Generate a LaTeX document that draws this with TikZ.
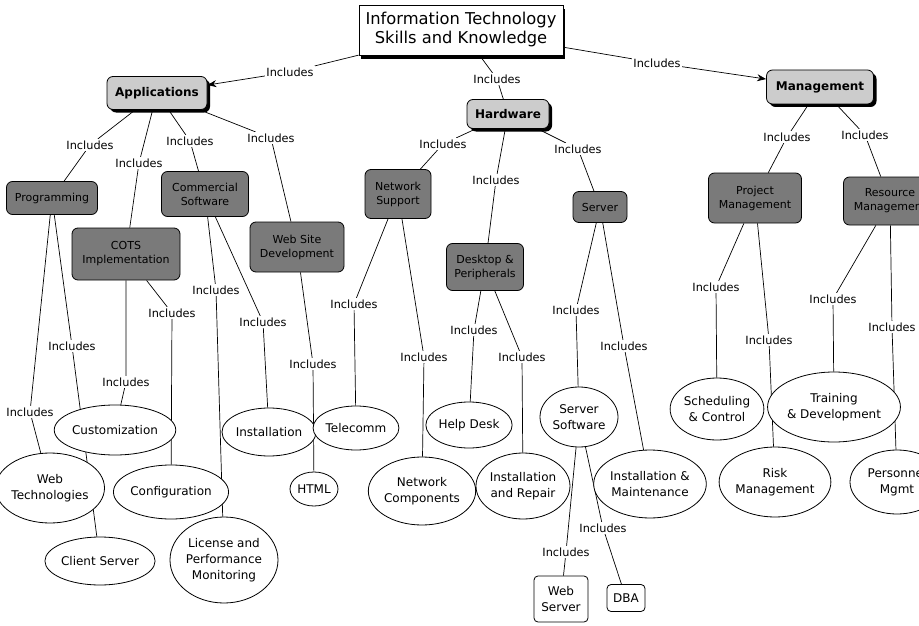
\documentclass[tikz,border=0pt]{standalone}
\usepackage{fontspec}
\setmainfont{DejaVu Sans}
\usetikzlibrary{shapes.geometric,shadows,arrows.meta}
\pgfdeclarelayer{edges}
\pgfsetlayers{edges,main}
\begin{document}
\begin{tikzpicture}[x=1pt,y=-1pt,
  conn/.style={draw=black,line width=0.7pt},
  arr/.style={conn,-{Stealth[length=9pt,width=7pt]}},
  lab/.style={font=\fontsize{11.3}{13}\selectfont,inner sep=1.5pt,fill=white},
  rootbox/.style={draw,fill=white,line width=0.8pt,align=center,
    font=\fontsize{16.3}{19}\selectfont,minimum width=204pt,minimum height=50pt,
    drop shadow={shadow xshift=2pt,shadow yshift=-4pt,fill=black,opacity=1}},
  topbox/.style={draw,fill=black!20,rounded corners=6pt,line width=0.8pt,
    font=\bfseries\fontsize{12}{14}\selectfont,inner sep=0pt,
    drop shadow={shadow xshift=3pt,shadow yshift=-3pt,fill=black,opacity=1}},
  subbox/.style={draw,fill=black!52,rounded corners=6pt,line width=0.8pt,align=center,
    font=\fontsize{11}{14}\selectfont,inner sep=0pt,text=black},
  leaf/.style={ellipse,draw,fill=white,line width=0.8pt,inner sep=0pt,align=center,
    font=\fontsize{12}{16}\selectfont},
  leafbox/.style={draw,fill=white,rounded corners=4pt,line width=0.8pt,inner sep=0pt,
    align=center,font=\fontsize{12}{16}\selectfont}
]
\useasboundingbox (0,0) rectangle (919,626);
\clip (0,0) rectangle (919,626);

% top concept
\node[rootbox] (it) at (461,30) {Information Technology\\Skills and Knowledge};

% main branches
\node[topbox,minimum width=100pt,minimum height=33pt] (app) at (157,93) {Applications};
\node[topbox,minimum width=82pt,minimum height=29pt] (hw) at (508,114) {Hardware};
\node[topbox,minimum width=107pt,minimum height=34pt] (mg) at (820,87) {Management};

% sub-areas
\node[subbox,minimum width=91pt,minimum height=33pt] (prog) at (52,198) {Programming};
\node[subbox,minimum width=108pt,minimum height=52pt] (cots) at (126,254) {COTS\\Implementation};
\node[subbox,minimum width=87pt,minimum height=45pt] (comm) at (205,194) {Commercial\\Software};
\node[subbox,minimum width=94pt,minimum height=50pt] (wsd) at (297,247) {Web Site\\Development};
\node[subbox,minimum width=66pt,minimum height=49pt] (ns) at (398,194) {Network\\Support};
\node[subbox,minimum width=77pt,minimum height=47pt] (dp) at (485,267) {Desktop \&\\Peripherals};
\node[subbox,minimum width=54pt,minimum height=31pt] (srv) at (600,207) {Server};
\node[subbox,minimum width=93pt,minimum height=50pt] (pm) at (755,198) {Project\\Management};
\node[subbox,minimum width=93pt,minimum height=48pt] (rm) at (890,201) {Resource\\Management};

% leaves
\node[leaf,minimum width=104pt,minimum height=50pt] (cust) at (115,430) {Customization};
\node[leaf,minimum width=96pt,minimum height=70pt] (webt) at (50,488) {Web\\Technologies};
\node[leaf,minimum width=94pt,minimum height=48pt] (cs) at (100,561) {Client Server};
\node[leaf,minimum width=98pt,minimum height=54pt] (conf) at (171,492) {Configuration};
\node[leaf,minimum width=108pt,minimum height=86pt] (lic) at (224,560) {License and\\Performance\\Monitoring};
\node[leaf,minimum width=86pt,minimum height=48pt] (inst) at (269,432) {Installation};
\node[leaf,minimum width=48pt,minimum height=34pt] (html) at (314,489) {HTML};
\node[leaf,minimum width=76pt,minimum height=44pt] (tel) at (356,428) {Telecomm};
\node[leaf,minimum width=90pt,minimum height=68pt] (nc) at (422,491) {Network\\Components};
\node[leaf,minimum width=76pt,minimum height=46pt] (hd) at (469,425) {Help Desk};
\node[leaf,minimum width=94pt,minimum height=66pt] (ir) at (523,486) {Installation\\and Repair};
\node[leaf,minimum width=78pt,minimum height=60pt] (ssw) at (579,417) {Server\\Software};
\node[leaf,minimum width=104pt,minimum height=68pt] (im) at (650,484) {Installation \&\\Maintenance};
\node[leaf,minimum width=90pt,minimum height=62pt] (sch) at (717,409) {Scheduling\\\& Control};
\node[leaf,minimum width=116pt,minimum height=70pt] (trn) at (834,407) {Training\\\& Development};
\node[leaf,minimum width=104pt,minimum height=70pt] (risk) at (775,482) {Risk\\Management};
\node[leaf,minimum width=94pt,minimum height=64pt] (per) at (897,482) {Personnel\\Mgmt};
\node[leafbox,minimum width=54pt,minimum height=46pt] (wsv) at (561,599) {Web\\Server};
\node[leafbox,minimum width=38pt,minimum height=27pt] (dba) at (626,598) {DBA};

% link labels
\node[lab] (l0) at (290,72) {Includes};
\node[lab] (lh) at (497,79) {Includes};
\node[lab] (lm) at (657,63) {Includes};
\node[lab] (l1) at (90,145) {Includes};
\node[lab] (l2) at (139,163) {Includes};
\node[lab] (l3) at (190,141) {Includes};
\node[lab] (l4) at (271,138) {Includes};
\node[lab] (l5) at (443,144) {Includes};
\node[lab] (l6) at (496,180) {Includes};
\node[lab] (l7) at (578,149) {Includes};
\node[lab] (l8) at (787,137) {Includes};
\node[lab] (l9) at (865,135) {Includes};
\node[lab] (l10) at (30,412) {Includes};
\node[lab] (l11) at (72,346) {Includes};
\node[lab] (l12) at (126,382) {Includes};
\node[lab] (l13) at (172,313) {Includes};
\node[lab] (l14) at (216,290) {Includes};
\node[lab] (l15) at (263,322) {Includes};
\node[lab] (l16) at (313,364) {Includes};
\node[lab] (l17) at (354,304) {Includes};
\node[lab] (l18) at (424,357) {Includes};
\node[lab] (l19) at (474,330) {Includes};
\node[lab] (l20) at (522,357) {Includes};
\node[lab] (l21) at (576,310) {Includes};
\node[lab] (l22) at (624,346) {Includes};
\node[lab] (l23) at (566,552) {Includes};
\node[lab] (l24) at (603,528) {Includes};
\node[lab] (l25) at (716,287) {Includes};
\node[lab] (l26) at (769,340) {Includes};
\node[lab] (l27) at (833,299) {Includes};
\node[lab] (l28) at (892,327) {Includes};

% connectors
\begin{pgfonlayer}{edges}
\draw[conn] (it) -- (l0); \draw[arr] (l0) -- (app);
\draw[conn] (it) -- (lh); \draw[conn] (lh) -- (hw);
\draw[conn] (it) -- (lm); \draw[arr] (lm) -- (mg);
\draw[conn] (app) -- (l1) -- (prog);
\draw[conn] (app) -- (l2) -- (cots);
\draw[conn] (app) -- (l3) -- (comm);
\draw[conn] (app) -- (l4) -- (wsd);
\draw[conn] (hw) -- (l5) -- (ns);
\draw[conn] (hw) -- (l6) -- (dp);
\draw[conn] (hw) -- (l7) -- (srv);
\draw[conn] (mg) -- (l8) -- (pm);
\draw[conn] (mg) -- (l9) -- (rm);
\draw[conn] (prog) -- (l10) -- (webt);
\draw[conn] (prog) -- (l11) -- (cs);
\draw[conn] (cots) -- (l12) -- (cust);
\draw[conn] (cots) -- (l13) -- (conf);
\draw[conn] (comm) -- (l14) -- (lic);
\draw[conn] (comm) -- (l15) -- (inst);
\draw[conn] (wsd) -- (l16) -- (html);
\draw[conn] (ns) -- (l17) -- (tel);
\draw[conn] (ns) -- (l18) -- (nc);
\draw[conn] (dp) -- (l19) -- (hd);
\draw[conn] (dp) -- (l20) -- (ir);
\draw[conn] (srv) -- (l21) -- (ssw);
\draw[conn] (srv) -- (l22) -- (im);
\draw[conn] (ssw) -- (l23) -- (wsv);
\draw[conn] (ssw) -- (l24) -- (dba);
\draw[conn] (pm) -- (l25) -- (sch);
\draw[conn] (pm) -- (l26) -- (risk);
\draw[conn] (rm) -- (l27) -- (trn);
\draw[conn] (rm) -- (l28) -- (per);
\end{pgfonlayer}
\end{tikzpicture}
\end{document}
